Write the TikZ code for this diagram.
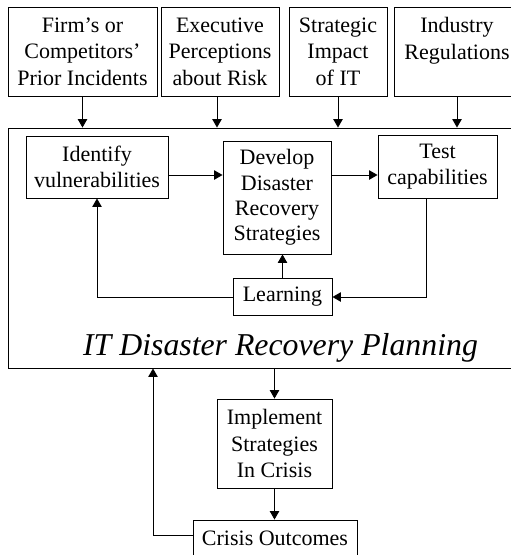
\documentclass[tikz,border=0pt]{standalone}
\usepackage{fontspec}
\setmainfont{Liberation Serif}
\usetikzlibrary{arrows.meta}
\begin{document}
\begin{tikzpicture}[x=1pt,y=-1pt,
  box/.style={draw, line width=0.9pt, inner sep=0pt, align=center, font=\fontsize{22}{26.4}\selectfont},
  arr/.style={line width=0.9pt, -{Triangle[length=8.5pt,width=9.5pt]}},
  ln/.style={line width=0.9pt}]
\useasboundingbox (0,0) rectangle (511,555);
% outer planning box
\node[draw, ln, inner sep=0pt, minimum width=511.5pt, minimum height=240pt] (big) at (264.25,248) {};
% top factor boxes
\node[box, minimum width=149pt, minimum height=89pt] (f1) at (82.5,51.5) {Firm’s or\\Competitors’\\Prior Incidents};
\node[box, minimum width=118pt, minimum height=89pt] (f2) at (220,51.5) {Executive\\Perceptions\\about Risk};
\node[box, minimum width=98pt, minimum height=89pt] (f3) at (338,51.5) {Strategic\\Impact\\of IT};
\node[box, minimum width=126pt, minimum height=89pt] (f4) at (457,51.5) {Industry\\Regulations\\~};
% inner boxes
\node[box, minimum width=142pt, minimum height=62pt] (id) at (97,167) {Identify\\vulnerabilities};
\node[box, minimum width=108pt, minimum height=113pt, font=\fontsize{22}{25.2}\selectfont] (dev) at (277,197.5) {Develop\\Disaster\\Recovery\\Strategies};
\node[box, minimum width=119pt, minimum height=63pt] (test) at (437.5,166.5) {Test\\capabilities};
\node[box, minimum width=99pt, minimum height=37pt] (learn) at (282.5,297) {Learning};
\node[font=\fontsize{31.8}{36}\selectfont\itshape, anchor=base, inner sep=0pt] (title) at (280.5,355) {IT Disaster Recovery Planning};
% bottom boxes
\node[box, minimum width=115pt, minimum height=89pt] (impl) at (274.5,443.5) {Implement\\Strategies\\In Crisis};
\node[box, minimum width=164pt, minimum height=42pt, text height=14pt, text depth=6pt] (out) at (275,541) {Crisis Outcomes};
% coordinates
\coordinate (a2) at (217,0);
\coordinate (fb) at (153,0);
% connectors from factors
\draw[arr] (f1.south) -- (f1.south |- big.north);
\draw[arr] (a2 |- f2.south) -- (a2 |- big.north);
\draw[arr] (f3.south) -- (f3.south |- big.north);
\draw[arr] (f4.south) -- (f4.south |- big.north);
% inner loop
\draw[arr] ([yshift=-8pt]id.east) -- ([yshift=-8pt]id.east -| dev.west);
\draw[arr] ([yshift=22.5pt]dev.east) -- ([yshift=22.5pt]dev.east -| test.west);
\draw[arr] ([xshift=-11.5pt]test.south) |- (learn.east);
\draw[arr] (learn.north) -- (learn.north |- dev.south);
\draw[arr] (learn.west) -| (id.south);
% bottom
\draw[arr] (impl.north |- big.south) -- (impl.north);
\draw[arr] (impl.south) -- (impl.south |- out.north);
\draw[arr] ([yshift=6pt]out.west) -| (fb |- big.south);
\end{tikzpicture}
\end{document}
